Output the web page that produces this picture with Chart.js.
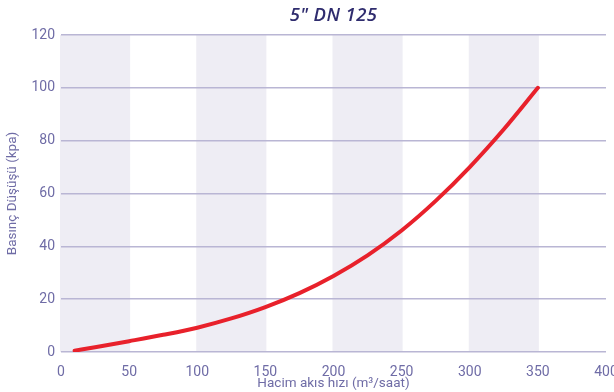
<!DOCTYPE html>
<html>
<head>
<meta charset="utf-8">
<script src="https://cdn.jsdelivr.net/npm/chart.js@4"></script>
<style>
html,body{margin:0;padding:0;background:#fff;}
#wrap{position:relative;width:614px;height:392px;}
</style>
</head>
<body>
<div id="wrap"><canvas id="c" width="614" height="392"></canvas></div>
<script>
// Data
const chartTitle = '5" DN 125';
const xAxisTitle = 'Hacim akıs hızı (m³/saat)';
const yAxisTitle = 'Basınç Düşüşü (kpa)';
const flowRates     = [10, 25, 50, 75, 100, 125, 150, 175, 200, 225, 250, 275, 300, 325, 350];
const pressureDrops = [0.5, 1.8, 4.1, 6.5, 9.2, 12.7, 17.0, 22.3, 28.8, 36.6, 46.0, 57.2, 70.0, 84.3, 100];
const xTickValues = [0, 50, 100, 150, 200, 250, 300, 350, 400];
const yTickValues = [0, 20, 40, 60, 80, 100, 120];
const shadedBands = [[0, 50], [100, 150], [200, 250], [300, 350]];

const textColor = '#6f6ca6';
const titleColor = '#2f2c6e';
const gridColor = '#b9b6d4';
const bandColor = '#eeedf4';
const lineColor = '#e8212b';
const fontFamily = 'Roboto, "Noto Sans", sans-serif';

const bandPlugin = {
  id: 'bands',
  beforeDraw(chart) {
    const {ctx, chartArea, scales} = chart;
    ctx.save();
    ctx.fillStyle = bandColor;
    shadedBands.forEach(([a, b]) => {
      const x1 = Math.max(scales.x.getPixelForValue(a) - 1, chartArea.left - 1);
      const x2 = scales.x.getPixelForValue(b) + 1;
      ctx.fillRect(x1, chartArea.top, x2 - x1, chartArea.bottom - chartArea.top);
    });
    ctx.restore();
  }
};

// Title centred over the plot area (as in the reference)
const titlePlugin = {
  id: 'areaTitle',
  afterDraw(chart) {
    const {ctx, chartArea} = chart;
    ctx.save();
    ctx.font = 'italic 600 18.5px "Open Sans", ' + fontFamily;
    ctx.fillStyle = titleColor;
    ctx.textAlign = 'center';
    ctx.textBaseline = 'middle';
    try { ctx.letterSpacing = '0.4px'; } catch (e) {}
    ctx.fillText(chartTitle, (chartArea.left + chartArea.right) / 2, 16);
    ctx.restore();
  }
};

new Chart(document.getElementById('c'), {
  type: 'line',
  data: {
    datasets: [{
      data: flowRates.map((x, i) => ({x, y: pressureDrops[i]})),
      borderColor: lineColor,
      borderWidth: 4,
      pointRadius: 0,
      fill: false,
      cubicInterpolationMode: 'monotone',
      borderCapStyle: 'round'
    }]
  },
  options: {
    responsive: false,
    animation: false,
    layout: {padding: {top: 35, left: 0, right: 0, bottom: 0}},
    plugins: {
      legend: {display: false},
      tooltip: {enabled: false},
      title: {display: false}
    },
    scales: {
      x: {
        type: 'linear',
        min: 0, max: 400,
        afterBuildTicks(axis) { axis.ticks = xTickValues.map(v => ({value: v})); },
        afterFit(axis) { axis.height = 40; axis.paddingRight = 8; },
        grid: {display: false},
        border: {display: false},
        ticks: {color: textColor, font: {family: fontFamily, size: 14}, padding: 4, maxRotation: 0},
        title: {display: true, text: xAxisTitle, color: textColor, font: {family: fontFamily, size: 13.5}, padding: {top: 0, bottom: 0}}
      },
      y: {
        min: 0, max: 120,
        afterBuildTicks(axis) { axis.ticks = yTickValues.map(v => ({value: v})); },
        afterFit(axis) { axis.width = 61; },
        grid: {color: gridColor, lineWidth: 1.5, drawTicks: false},
        border: {display: false},
        ticks: {color: textColor, font: {family: fontFamily, size: 14}, padding: 6},
        title: {display: true, text: yAxisTitle, color: textColor, font: {family: fontFamily, size: 13.5}, padding: {top: 5, bottom: 0}}
      }
    }
  },
  plugins: [bandPlugin, titlePlugin]
});
</script>
</body>
</html>
